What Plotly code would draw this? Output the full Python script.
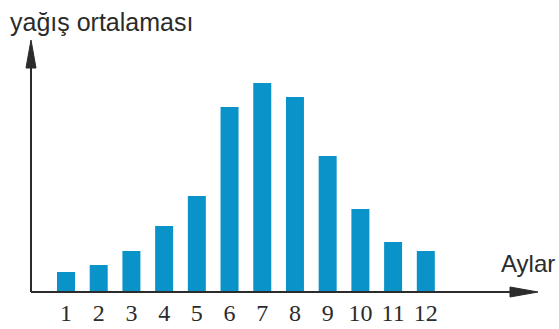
import plotly.graph_objects as go

months = [1, 2, 3, 4, 5, 6, 7, 8, 9, 10, 11, 12]
tick_labels = ["1", "2", "3", "4", "5", "6", "7", "8", "9", "10", "11", "12"]
rainfall = [20, 27, 41, 66, 96, 185, 209, 195, 136, 83, 50, 41]

y_title = "yağış ortalaması"
x_title = "Aylar"

BAR = "#0A93C9"
AX = "#2b2b2b"

fig = go.Figure()
fig.add_trace(go.Bar(x=months, y=rainfall, width=0.55,
                     marker=dict(color=BAR, line=dict(width=0))))

W, H = 559, 329
L, R, T, B = 31, 21, 40, 37
pw = W - L - R
ph = H - T - B

def px(xp):
    return (xp - L) / pw

def py(yp):
    return (H - B - yp) / ph

fig.update_layout(
    width=W, height=H,
    margin=dict(l=L, r=R, t=T, b=B, pad=0, autoexpand=False),
    paper_bgcolor="white", plot_bgcolor="white",
    showlegend=False,
    xaxis=dict(range=[-0.07, 15.43], tickmode="array", tickvals=months,
               ticktext=tick_labels, showgrid=False, zeroline=False,
               showline=False, ticks="", ticklen=0, ticklabelstandoff=4,
               automargin=False,
               tickfont=dict(family="Liberation Serif", size=24, color=AX)),
    yaxis=dict(range=[0, 252], showgrid=False, zeroline=False, automargin=False,
               showticklabels=False, ticks="", showline=False),
    shapes=[
        dict(type="line", xref="paper", yref="paper", x0=0, x1=px(512), y0=0, y1=0,
             line=dict(color=AX, width=2)),
        dict(type="line", xref="paper", yref="paper", x0=0, x1=0, y0=0, y1=py(66),
             line=dict(color=AX, width=2)),
        dict(type="path", xref="paper", yref="paper",
             path=f"M 0 1 L {px(36)} {py(68)} L {px(26)} {py(68)} Z",
             fillcolor=AX, line=dict(color=AX, width=1)),
        dict(type="path", xref="paper", yref="paper",
             path=f"M 1 0 L {px(510)} {py(287)} L {px(510)} {py(297)} Z",
             fillcolor=AX, line=dict(color=AX, width=1)),
    ],
    annotations=[
        dict(text=y_title, xref="paper", yref="paper", x=px(8), y=py(22),
             xanchor="left", yanchor="middle", showarrow=False,
             font=dict(family="Liberation Sans", size=25, color=AX)),
        dict(text=x_title, xref="paper", yref="paper", x=px(499), y=py(263),
             xanchor="left", yanchor="middle", showarrow=False,
             font=dict(family="Liberation Sans", size=24, color=AX)),
    ],
)

fig.write_html("out.html", config={"displayModeBar": False},
               post_script="document.body.style.margin='0';document.body.style.padding='0';")
